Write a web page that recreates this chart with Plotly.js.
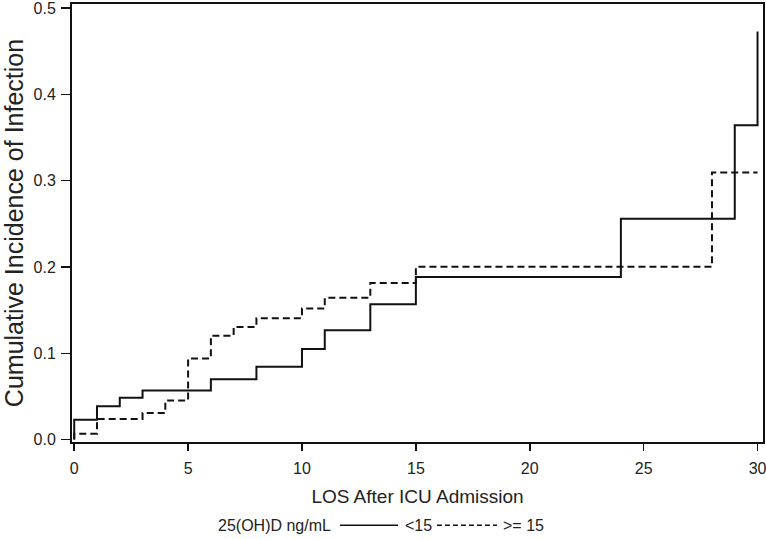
<!DOCTYPE html>
<html>
<head>
<meta charset="utf-8">
<script src="https://cdn.plot.ly/plotly-3.0.1.min.js"></script>
<style>html,body{margin:0;padding:0;background:#fff;}#chart{width:766px;height:539px;}</style>
</head>
<body>
<div id="chart"></div>
<script>
// Cumulative incidence of infection, step functions
var daysLow = [0, 0, 1, 2, 3, 6, 8, 10, 11, 13, 15, 24, 29, 30];
var cifLow  = [0, 0.023, 0.0387, 0.0484, 0.0569, 0.0699, 0.0845, 0.105, 0.1268, 0.1568, 0.1883, 0.256, 0.3644, 0.4728];

var daysHigh = [0, 0, 1, 3, 4, 5, 6, 7, 8, 10, 11, 13, 15, 28, 30];
var cifHigh  = [0, 0.0069, 0.0238, 0.0307, 0.0453, 0.0941, 0.1203, 0.1306, 0.1407, 0.1518, 0.1644, 0.1814, 0.2002, 0.3094, 0.3094];

var seriesNames = ["<15", ">= 15"];
var legendTitle = "25(OH)D ng/mL";
var xTicks = [0, 5, 10, 15, 20, 25, 30];
var yTicks = [0, 0.1, 0.2, 0.3, 0.4, 0.5];

var FONT = "Liberation Sans, Arial, sans-serif";
var INK = "#111";
var DASH = "7px,4px";

var traces = [
  {x: daysLow, y: cifLow, name: seriesNames[0], mode: "lines", type: "scatter",
   line: {shape: "hv", color: INK, width: 2}},
  {x: daysHigh, y: cifHigh, name: seriesNames[1], mode: "lines", type: "scatter",
   line: {shape: "hv", color: INK, width: 2, dash: DASH}}
];

// legend row drawn below the plot (paper coordinates)
var legY = -0.19;
var annotations = [
  {text: legendTitle, x: 0.3777, y: legY, xref: "paper", yref: "paper", xanchor: "right", yanchor: "middle",
   showarrow: false, font: {size: 16, family: FONT, color: "#222"}},
  {text: seriesNames[0], x: 0.479, y: legY, xref: "paper", yref: "paper", xanchor: "left", yanchor: "middle",
   showarrow: false, font: {size: 16, family: FONT, color: "#222"}},
  {text: seriesNames[1], x: 0.6208, y: legY, xref: "paper", yref: "paper", xanchor: "left", yanchor: "middle",
   showarrow: false, font: {size: 16, family: FONT, color: "#222"}}
];
var shapes = [
  {type: "line", xref: "paper", yref: "paper", x0: 0.3878, x1: 0.4718, y0: legY, y1: legY,
   line: {color: INK, width: 1.5}},
  {type: "line", xref: "paper", yref: "paper", x0: 0.5282, x1: 0.6151, y0: legY, y1: legY,
   line: {color: INK, width: 1.5, dash: "5px,3px"}}
];

var layout = {
  width: 766, height: 539,
  margin: {l: 72, r: 3, t: 4, b: 97},
  paper_bgcolor: "#fff", plot_bgcolor: "#fff",
  font: {family: FONT, color: "#222", size: 16},
  showlegend: false,
  annotations: annotations,
  shapes: shapes,
  xaxis: {
    range: [-0.097, 30.24], tickvals: xTicks, ticktext: xTicks.map(String),
    showgrid: false, zeroline: false, showline: true, linecolor: INK, linewidth: 2, mirror: true,
    ticks: "outside", ticklen: 7, tickwidth: 1.5, tickcolor: INK, ticklabelstandoff: 4,
    ticklabeloverflow: "allow",
    tickfont: {size: 16, family: FONT},
    title: {text: "LOS After ICU Admission", font: {size: 19, family: FONT}, standoff: 13}
  },
  yaxis: {
    range: [-0.0028, 0.5048], tickvals: yTicks, ticktext: yTicks.map(function(v){return v.toFixed(1);}),
    showgrid: false, zeroline: false, showline: true, linecolor: INK, linewidth: 2, mirror: true,
    ticks: "outside", ticklen: 9, tickwidth: 1.5, tickcolor: INK, ticklabelstandoff: 2,
    ticklabeloverflow: "allow",
    tickfont: {size: 16, family: FONT},
    title: {text: "Cumulative Incidence of Infection", font: {size: 25, family: FONT}, standoff: 5}
  }
};

Plotly.newPlot("chart", traces, layout, {displayModeBar: false, staticPlot: true});
</script>
</body>
</html>
